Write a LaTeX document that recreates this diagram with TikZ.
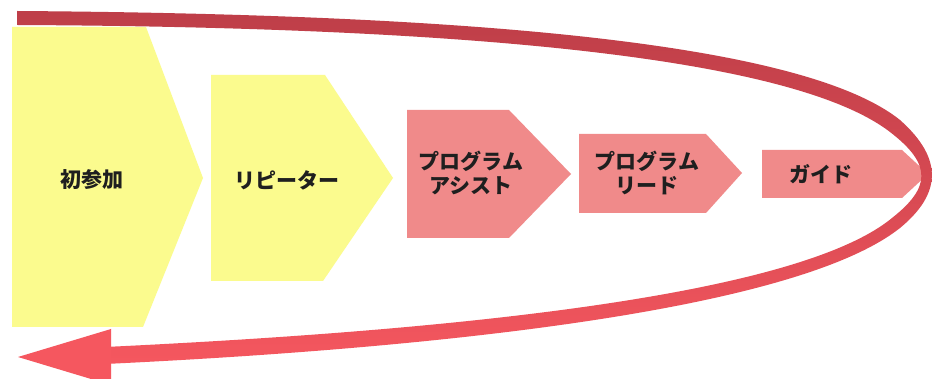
\documentclass[tikz,border=0pt]{standalone}
\usepackage{fontspec}
\newfontfamily\cjk{Noto Sans CJK JP}
\begin{document}
\begin{tikzpicture}[x=1pt,y=-1pt,
  lbl/.style={font=\cjk\bfseries\fontsize{21}{24}\selectfont, text=black!88, align=center, inner sep=0pt},
  yel/.style={fill=yellowbox},
  pnk/.style={fill=pinkbox}]
\definecolor{yellowbox}{HTML}{FBFB8E}
\definecolor{pinkbox}{HTML}{F08A8A}
\definecolor{curvetop}{HTML}{BE3E48}
\definecolor{curvebot}{HTML}{F5575F}
\clip (0,0) rectangle (932,379);
\fill[white] (0,0) rectangle (932,379);
% stage shapes
\fill[yel] (12,27) -- (146,27) -- (203,178) -- (143,327) -- (12,327) -- cycle;
\fill[yel] (211,75) -- (325,75) -- (393,178) -- (323,281) -- (211,281) -- cycle;
\fill[pnk] (407,110) -- (509,110) -- (571,174) -- (509,238) -- (407,238) -- cycle;
\fill[pnk] (579,134) -- (706,134) -- (742,173) -- (706,213) -- (579,213) -- cycle;
\fill[pnk] (762,150) -- (902,150) -- (928,174) -- (902,198) -- (762,198) -- cycle;
% labels
\node[lbl] (n1) at (92,180) {初参加};
\node[lbl] (n2) at (287,180) {リピーター};
\node[lbl] (n3) at (471,173) {プログラム\\アシスト};
\node[lbl] (n4) at (647,173) {プログラム\\リード};
\node[lbl] (n5) at (821,174) {ガイド};
% cycle arrow
\shade[top color=curvetop, bottom color=curvebot, middle color=curvetop!55!curvebot]
  (17,11) .. controls (450,14) and (800,40) .. (900,120)
  .. controls (945,160) and (940,195) .. (900,228)
  .. controls (790,315) and (400,350) .. (105,364)
  -- (105,347)
  .. controls (400,333) and (790,302) .. (892,218)
  .. controls (930,188) and (933,165) .. (890,132)
  .. controls (790,55) and (450,27) .. (17,25)
  -- cycle;
\fill[curvebot] (18,357) -- (111,329) -- (111,385) -- cycle;
\end{tikzpicture}
\end{document}
